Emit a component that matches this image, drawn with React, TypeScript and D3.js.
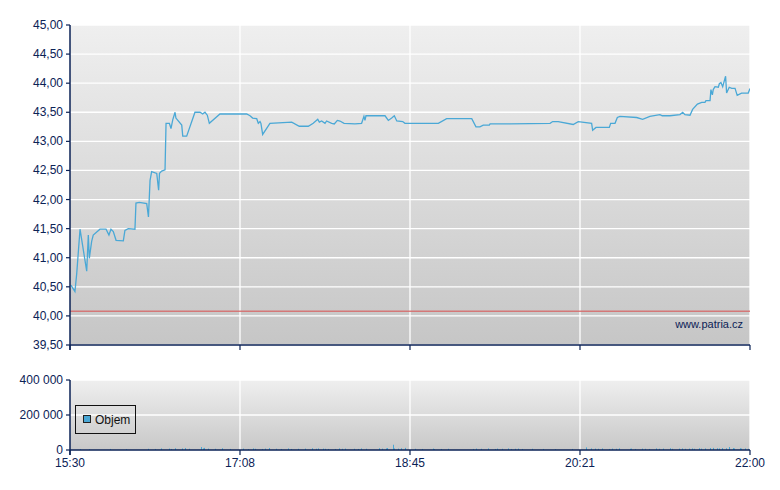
import { useMemo } from 'react';
import * as d3 from 'd3';

const W = 780;
const H = 490;
const PRICE = { top: 25, bottom: 345, left: 70, right: 750 };
const VOL = { top: 380, bottom: 450, left: 70, right: 750 };

const AXIS_COLOR = '#0b2256';
const LINE_COLOR = '#4aa8d6';
const FONT = 'Liberation Sans, Arial, sans-serif';

// obchodní den
const SESSION = ['15:30:00', '22:00:00'];
const X_TICK_LABELS = ['15:30', '17:08', '18:45', '20:21', '22:00'];
const PRICE_TICKS = [39.5, 40, 40.5, 41, 41.5, 42, 42.5, 43, 43.5, 44, 44.5, 45];
const VOLUME_TICKS = [0, 200000, 400000];
const REFERENCE_PRICE = 40.08;

// cena
const priceTimes = [
  '15:30:30', '15:32:50', '15:33:50', '15:35:45', '15:39:35', '15:40:30', '15:41:05', '15:42:25',
  '15:43:20', '15:47:10', '15:50:40', '15:52:20', '15:53:30', '15:54:50', '15:56:25', '16:00:35',
  '16:01:30', '16:03:25', '16:07:15', '16:07:50', '16:09:45', '16:14:00', '16:15:00', '16:15:55',
  '16:16:50', '16:19:45', '16:20:50', '16:21:20', '16:22:35', '16:24:30', '16:25:05', '16:27:00',
  '16:27:55', '16:28:55', '16:30:15', '16:30:45', '16:34:05', '16:34:40', '16:36:55', '16:41:40',
  '16:44:35', '16:46:05', '16:47:25', '16:48:45', '16:49:55', '16:56:00', '17:11:20', '17:13:15',
  '17:14:45', '17:17:05', '17:18:00', '17:19:00', '17:19:30', '17:20:30', '17:24:40', '17:37:10',
  '17:41:30', '17:46:40', '17:49:30', '17:52:05', '17:53:00', '17:54:20', '17:56:15', '17:57:10',
  '18:00:05', '18:01:35', '18:03:20', '18:04:50', '18:07:10', '18:13:25', '18:17:15', '18:18:35',
  '18:19:10', '18:19:45', '18:30:40', '18:32:35', '18:34:30', '18:36:00', '18:37:25', '18:40:50',
  '18:42:05', '19:01:15', '19:06:00', '19:20:25', '19:22:50', '19:25:05', '19:27:00', '19:30:30',
  '19:30:55', '19:42:20', '20:05:20', '20:06:50', '20:10:00', '20:18:35', '20:21:30', '20:29:10',
  '20:29:45', '20:31:40', '20:39:20', '20:40:05', '20:42:35', '20:43:55', '20:45:25', '20:55:00',
  '20:58:25', '21:02:35', '21:08:20', '21:09:40', '21:14:05', '21:19:50', '21:21:25', '21:22:40',
  '21:25:35', '21:27:05', '21:29:50', '21:32:20', '21:34:10', '21:34:45', '21:37:05', '21:37:35',
  '21:38:25', '21:38:55', '21:39:55', '21:41:50', '21:42:25', '21:43:20', '21:44:20', '21:46:00',
  '21:46:35', '21:48:05', '21:49:30', '21:51:25', '21:52:40', '21:55:10', '21:59:00', '22:00:00',
];
const priceValues = [
  40.53, 40.42, 40.72, 41.49, 40.77, 41.39, 40.99, 41.28,
  41.39, 41.49, 41.49, 41.39, 41.49, 41.45, 41.30, 41.29,
  41.47, 41.50, 41.49, 41.94, 41.95, 41.93, 41.70, 42.33,
  42.48, 42.45, 42.16, 42.45, 42.49, 42.51, 43.31, 43.31,
  43.22, 43.37, 43.50, 43.40, 43.28, 43.09, 43.09, 43.50,
  43.50, 43.47, 43.50, 43.45, 43.31, 43.47, 43.47, 43.44,
  43.40, 43.39, 43.31, 43.34, 43.31, 43.12, 43.31, 43.33,
  43.26, 43.26, 43.31, 43.38, 43.33, 43.35, 43.31, 43.35,
  43.31, 43.30, 43.36, 43.35, 43.31, 43.30, 43.31, 43.43,
  43.36, 43.44, 43.44, 43.36, 43.40, 43.44, 43.35, 43.34,
  43.31, 43.31, 43.39, 43.39, 43.25, 43.25, 43.28, 43.28,
  43.30, 43.30, 43.31, 43.34, 43.34, 43.29, 43.34, 43.31,
  43.19, 43.24, 43.24, 43.31, 43.31, 43.41, 43.43, 43.41,
  43.38, 43.43, 43.46, 43.44, 43.44, 43.46, 43.50, 43.46,
  43.45, 43.55, 43.64, 43.67, 43.67, 43.70, 43.70, 43.89,
  43.80, 43.89, 43.94, 43.93, 43.99, 44.01, 43.94, 44.12,
  43.83, 43.93, 43.91, 43.91, 43.79, 43.83, 43.83, 43.91,
];

// objem
const volumeTimes = [
  '15:36', '15:41', '15:53', '16:02', '16:15', '16:19', '16:22', '16:27', '16:28', '16:30',
  '16:34', '16:36', '16:38', '16:45', '16:46', '16:47', '16:49', '16:53', '16:57', '17:02',
  '17:09', '17:12', '17:15', '17:16', '17:20', '17:22', '17:24', '17:28', '17:31', '17:35',
  '17:37', '17:41', '17:45', '17:49', '17:51', '17:52', '17:55', '17:56', '17:58', '18:02',
  '18:04', '18:06', '18:08', '18:13', '18:15', '18:17', '18:20', '18:27', '18:29', '18:31',
  '18:32', '18:35', '18:36', '18:38', '18:40', '18:42', '18:48', '18:52', '18:58', '18:59',
  '19:03', '19:07', '19:21', '19:23', '19:26', '19:30', '19:34', '19:35', '19:38', '19:41',
  '19:43', '19:45', '19:47', '19:49', '19:55', '20:01', '20:08', '20:18', '20:26', '20:29',
  '20:31', '20:33', '20:35', '20:39', '20:41', '20:43', '20:45', '20:51', '20:52', '20:54',
  '20:58', '21:00', '21:02', '21:06', '21:08', '21:10', '21:14', '21:15', '21:19', '21:21',
  '21:23', '21:25', '21:27', '21:28', '21:31', '21:32', '21:34', '21:37', '21:39', '21:41',
  '21:42', '21:44', '21:46', '21:48', '21:50', '21:51', '21:54', '21:55', '21:57', '21:59',
];
const volumeValues = [
  5000, 4000, 6000, 5000, 7000, 6000, 9000, 8000, 6000, 10000,
  9000, 11000, 7000, 17000, 9000, 12000, 8000, 7000, 10000, 6000,
  8000, 5000, 9000, 7000, 6000, 8000, 11000, 7000, 6000, 9000,
  6000, 7000, 8000, 10000, 7000, 9000, 8000, 7000, 6000, 6000,
  9000, 7000, 8000, 7000, 6000, 9000, 7000, 10000, 8000, 9000,
  11000, 30000, 9000, 8000, 10000, 12000, 7000, 6000, 8000, 5000,
  6000, 7000, 6000, 8000, 7000, 9000, 6000, 8000, 7000, 9000,
  6000, 7000, 8000, 6000, 7000, 6000, 5000, 6000, 15000, 9000,
  8000, 7000, 9000, 6000, 8000, 7000, 9000, 7000, 8000, 6000,
  8000, 7000, 6000, 9000, 7000, 8000, 10000, 7000, 8000, 9000,
  7000, 8000, 9000, 7000, 10000, 8000, 9000, 11000, 12000, 10000,
  9000, 11000, 10000, 17000, 11000, 9000, 10000, 8000, 9000, 7000,
];

const parseTime = (s: string) =>
  d3.timeParse('%H:%M:%S')(s) ?? d3.timeParse('%H:%M')(s)!;

const czLocale = d3.formatLocale({ decimal: ',', thousands: ' ', grouping: [3], currency: ['', ' Kč'] });
const fmtPrice = czLocale.format('.2f');
const fmtVolume = czLocale.format(',d');

export default function App() {
  const [t0, t1] = SESSION.map(parseTime);

  const x = useMemo(
    () => d3.scaleTime().domain([t0, t1]).range([PRICE.left, PRICE.right]),
    [t0, t1],
  );
  const y = useMemo(
    () => d3.scaleLinear().domain([39.5, 45]).range([PRICE.bottom, PRICE.top]),
    [],
  );
  const yVol = useMemo(
    () => d3.scaleLinear().domain([0, 400000]).range([VOL.bottom, VOL.top]),
    [],
  );

  const xTicks = d3.range(X_TICK_LABELS.length).map(
    (i) => new Date(+t0 + (i * (+t1 - +t0)) / (X_TICK_LABELS.length - 1)),
  );

  const pricePoints = priceTimes.map((t, i) => ({ t: parseTime(t), v: priceValues[i] }));
  const linePath = d3
    .line<{ t: Date; v: number }>()
    .x((d) => x(d.t))
    .y((d) => y(d.v))(pricePoints);

  const volumes = volumeTimes.map((t, i) => ({ t: parseTime(t), v: volumeValues[i] }));

  const textStyle = { fontFamily: FONT, fontSize: 12, fill: AXIS_COLOR };

  return (
    <svg width={W} height={H} style={{ position: 'absolute', left: 0, top: 0, background: '#fff' }}>
      <defs>
        <linearGradient id="bgPrice" x1="0" y1="0" x2="0" y2="1">
          <stop offset="0%" stopColor="#efefef" />
          <stop offset="100%" stopColor="#c6c6c6" />
        </linearGradient>
        <linearGradient id="bgVol" x1="0" y1="0" x2="0" y2="1">
          <stop offset="0%" stopColor="#efefef" />
          <stop offset="100%" stopColor="#c8c8c8" />
        </linearGradient>
        <clipPath id="clipPrice">
          <rect x={PRICE.left} y={PRICE.top} width={PRICE.right - PRICE.left} height={PRICE.bottom - PRICE.top} />
        </clipPath>
      </defs>

      {/* cenový graf */}
      <rect
        x={PRICE.left}
        y={PRICE.top}
        width={PRICE.right - PRICE.left}
        height={PRICE.bottom - PRICE.top}
        fill="url(#bgPrice)"
      />
      {PRICE_TICKS.map((v) => (
        <line key={v} x1={PRICE.left} x2={PRICE.right} y1={y(v)} y2={y(v)} stroke="#fff" strokeWidth={1.3} />
      ))}
      {xTicks.slice(1).map((t, i) => (
        <line key={i} x1={x(t)} x2={x(t)} y1={PRICE.top} y2={PRICE.bottom} stroke="#fff" strokeWidth={1.3} />
      ))}
      <line
        x1={PRICE.left}
        x2={PRICE.right}
        y1={y(REFERENCE_PRICE)}
        y2={y(REFERENCE_PRICE)}
        stroke="#d66a6a"
        strokeWidth={1.6}
        strokeOpacity={0.85}
      />
      <path d={linePath ?? ''} fill="none" stroke={LINE_COLOR} strokeWidth={1.3} clipPath="url(#clipPrice)" />
      <text x={743} y={328} textAnchor="end" style={{ ...textStyle, fontSize: 11 }}>
        www.patria.cz
      </text>

      {/* osy cena */}
      <line x1={PRICE.left} x2={PRICE.left} y1={PRICE.top} y2={PRICE.bottom + 5} stroke={AXIS_COLOR} strokeWidth={1.5} />
      <line x1={PRICE.left} x2={PRICE.right} y1={PRICE.bottom} y2={PRICE.bottom} stroke={AXIS_COLOR} strokeWidth={1.5} />
      {PRICE_TICKS.map((v) => (
        <g key={v}>
          <line x1={PRICE.left - 4} x2={PRICE.left} y1={y(v)} y2={y(v)} stroke={AXIS_COLOR} strokeWidth={1.2} />
          <text x={PRICE.left - 7} y={y(v) + 4} textAnchor="end" style={textStyle}>
            {fmtPrice(v)}
          </text>
        </g>
      ))}
      {xTicks.map((t, i) => (
        <line key={i} x1={x(t)} x2={x(t)} y1={PRICE.bottom} y2={PRICE.bottom + 5} stroke={AXIS_COLOR} strokeWidth={1.2} />
      ))}

      {/* objem */}
      <rect x={VOL.left} y={VOL.top} width={VOL.right - VOL.left} height={VOL.bottom - VOL.top} fill="url(#bgVol)" />
      {VOLUME_TICKS.slice(1).map((v) => (
        <line key={v} x1={VOL.left} x2={VOL.right} y1={yVol(v)} y2={yVol(v)} stroke="#fff" strokeWidth={1.3} />
      ))}
      {xTicks.slice(1).map((t, i) => (
        <line key={i} x1={x(t)} x2={x(t)} y1={VOL.top} y2={VOL.bottom} stroke="#fff" strokeWidth={1.3} />
      ))}
      {volumes.map((d, i) => (
        <rect
          key={i}
          x={Math.round(x(d.t))}
          y={yVol(d.v)}
          width={1}
          height={VOL.bottom - yVol(d.v)}
          fill={LINE_COLOR}
        />
      ))}

      <line x1={VOL.left} x2={VOL.left} y1={VOL.top} y2={VOL.bottom + 5} stroke={AXIS_COLOR} strokeWidth={1.5} />
      <line x1={VOL.left} x2={VOL.right} y1={VOL.bottom} y2={VOL.bottom} stroke={AXIS_COLOR} strokeWidth={1.5} />
      {VOLUME_TICKS.map((v) => (
        <g key={v}>
          <line x1={VOL.left - 4} x2={VOL.left} y1={yVol(v)} y2={yVol(v)} stroke={AXIS_COLOR} strokeWidth={1.2} />
          <text x={VOL.left - 7} y={yVol(v) + 4} textAnchor="end" style={textStyle}>
            {fmtVolume(v)}
          </text>
        </g>
      ))}
      {xTicks.map((t, i) => (
        <g key={i}>
          <line x1={x(t)} x2={x(t)} y1={VOL.bottom} y2={VOL.bottom + 5} stroke={AXIS_COLOR} strokeWidth={1.2} />
          <text x={x(t)} y={VOL.bottom + 17} textAnchor="middle" style={textStyle}>
            {X_TICK_LABELS[i]}
          </text>
        </g>
      ))}

      {/* legenda */}
      <rect x={75.5} y={405.5} width={60} height={28} fill="none" stroke="#111" strokeWidth={1} />
      <rect x={83.5} y={415.5} width={7} height={7} fill={LINE_COLOR} stroke="#222" strokeWidth={1} />
      <text x={95} y={424} style={{ fontFamily: FONT, fontSize: 12, fill: '#111' }}>
        Objem
      </text>
    </svg>
  );
}
